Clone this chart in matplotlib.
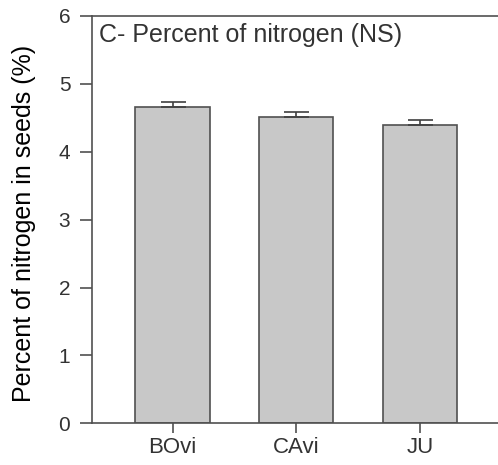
import matplotlib.pyplot as plt

plt.rcParams.update({
    "font.family": "Liberation Sans",
    "text.color": "#333333",
    "axes.edgecolor": "#505050",
    "xtick.color": "#505050",
    "ytick.color": "#505050",
    "xtick.labelcolor": "#333333",
    "ytick.labelcolor": "#333333",
})

# Data
sites = ['BOvi', 'CAvi', 'JU']
nitrogen = [4.66, 4.51, 4.39]
nitrogen_se = [0.08, 0.075, 0.08]

fig = plt.figure(figsize=(4.98, 4.65), dpi=100)
ax = fig.add_axes([92 / 498, 41.7 / 465, 406 / 498, 407.3 / 465])

x = [1, 2, 3]
ax.bar(x, nitrogen, width=0.6, color='#c8c8c8', edgecolor='#505050',
       linewidth=1.2, zorder=2)
ax.errorbar(x, nitrogen, yerr=[[0] * 3, nitrogen_se], fmt='none',
            ecolor='#404040', elinewidth=1.2, capsize=9, capthick=1.2,
            zorder=3)

ax.set_xlim(0.349, 3.63)
ax.set_ylim(0, 6)
ax.set_yticks(range(0, 7))
ax.set_xticks(x)
ax.set_xticklabels(sites)

ax.spines['right'].set_visible(False)
for s in ['left', 'top', 'bottom']:
    ax.spines[s].set_linewidth(1.2)

ax.tick_params(axis='y', direction='out', length=8.6, width=1.2,
               labelsize=15, pad=7)
ax.tick_params(axis='x', direction='out', length=7.2, width=1.2,
               labelsize=16, pad=2.5)

ax.set_ylabel('Percent of nitrogen in seeds (%)', fontsize=18)
ax.yaxis.set_label_coords(-0.138, 0.4905)
ax.text(0.017, 0.937, 'C- Percent of nitrogen (NS)', transform=ax.transAxes,
        fontsize=18, va='baseline', ha='left')

plt.savefig('out.png', dpi=100)
